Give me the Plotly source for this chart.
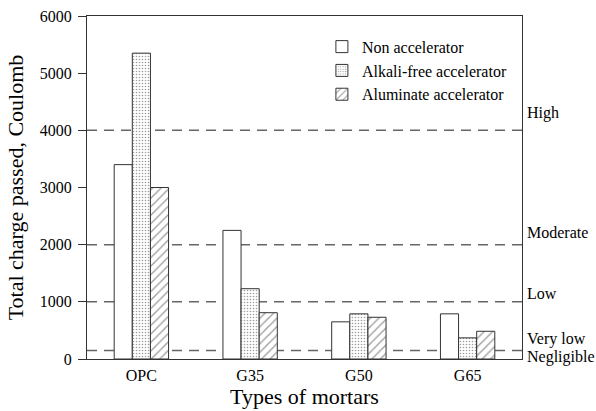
import plotly.graph_objects as go

categories = ["OPC", "G35", "G50", "G65"]
non_acc = [3400, 2250, 650, 790]
alkali_free = [5350, 1230, 790, 370]
aluminate = [3000, 810, 730, 485]
series_names = ["Non accelerator", "Alkali-free accelerator", "Aluminate accelerator"]
threshold_values = [4000, 2000, 1000, 150]
risk_labels = ["High", "Moderate", "Low", "Very low", "Negligible"]
risk_label_y = [4300, 2220, 1150, 350, 35]

FONT = "Liberation Serif"

fig = go.Figure()
patterns = ["", ".", "/"]
pat_size = [6, 3, 6]
pat_sol = [0.2, 0.22, 0.22]
for i, (name, vals) in enumerate(zip(series_names, [non_acc, alkali_free, aluminate])):
    fig.add_trace(go.Bar(
        x=categories, y=vals, name=name,
        marker=dict(color="white", line=dict(color="#333333", width=1),
                    pattern=dict(shape=patterns[i], fgcolor="#3a3a3a", bgcolor="white",
                                 size=pat_size[i], solidity=pat_sol[i])),
    ))

for v in threshold_values:
    fig.add_shape(type="line", xref="paper", x0=0, x1=1, yref="y", y0=v, y1=v,
                  line=dict(color="#666666", width=1.5, dash="10px,7px"), layer="below")

for lab, yv in zip(risk_labels, risk_label_y):
    fig.add_annotation(text=lab, xref="paper", x=1.008, yref="y", y=yv, xanchor="left",
                       yanchor="middle", showarrow=False, font=dict(family=FONT, size=16, color="black"))

fig.update_layout(
    width=596, height=411,
    margin=dict(l=87, r=74, t=16, b=52),
    paper_bgcolor="white", plot_bgcolor="white",
    barmode="group", bargap=0.5, bargroupgap=0,
    font=dict(family=FONT, size=16, color="black"),
    showlegend=True,
    legend=dict(x=0.54, y=0.96, xanchor="left", yanchor="top", bgcolor="rgba(0,0,0,0)",
                font=dict(family=FONT, size=16), tracegroupgap=0),
    xaxis=dict(showline=True, linecolor="#333333", linewidth=1, mirror=True, ticks="",
               ticklabelstandoff=2, automargin=False,
               title=dict(text="Types of mortars", font=dict(family=FONT, size=22), standoff=0),
               tickfont=dict(family=FONT, size=16)),
    yaxis=dict(range=[0, 6000], tickvals=[0, 1000, 2000, 3000, 4000, 5000, 6000],
               showline=True, linecolor="#333333", linewidth=1, mirror=True, automargin=False,
               ticks="outside", ticklen=8, tickcolor="#333333", showgrid=False, zeroline=False,
               ticklabelstandoff=3,
               title=dict(text="Total charge passed, Coulomb", font=dict(family=FONT, size=22), standoff=10),
               tickfont=dict(family=FONT, size=16)),
)

fig.write_html("out.html")
